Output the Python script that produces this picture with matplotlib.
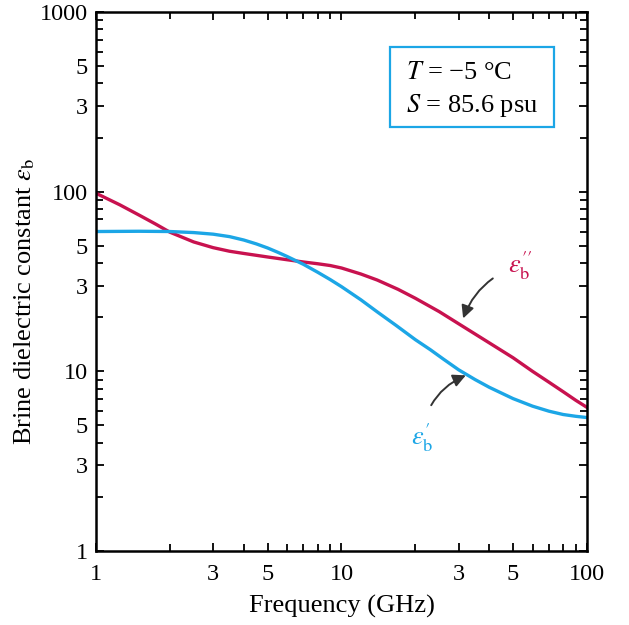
import matplotlib
matplotlib.use('Agg')
import matplotlib.pyplot as plt
from matplotlib.patches import Rectangle

plt.rcParams['font.family'] = ['Liberation Serif', 'DejaVu Serif']
plt.rcParams['mathtext.fontset'] = 'stix'

red = '#c8124f'
blue = '#1ca6e6'

# loss factor eps_b'' vs frequency (GHz)
f_loss = [1.0, 1.25, 1.5, 1.75, 2.0, 2.5, 3.0, 3.5, 4.0, 5.0, 6.0, 7.0, 8.0,
          9.0, 10, 12, 14, 17, 20, 25, 30, 40, 50, 60, 70, 80, 90, 100]
eps_loss = [98, 84.5, 74, 66, 59.5, 52.5, 48.8, 46.6, 45.3, 43.3, 41.8, 40.6,
            39.7, 38.8, 37.6, 34.8, 32.2, 28.6, 25.5, 21.5, 18.4, 14.4, 11.9,
            10.0, 8.7, 7.7, 6.9, 6.3]

# real part eps_b' vs frequency (GHz)
f_real = [1.0, 1.5, 2.0, 2.5, 3.0, 3.5, 4.0, 4.5, 5.0, 5.5, 6.0, 7.0, 8.0,
          9.0, 10, 11, 12, 14, 16.7, 20, 23, 26, 30, 35, 40, 50, 60, 70, 80,
          90, 100]
eps_real = [60.0, 60.2, 60.0, 59.2, 58.0, 56.2, 53.8, 51.2, 48.6, 46.0, 43.6,
            39.4, 35.6, 32.4, 29.6, 27.1, 25.0, 21.4, 18.0, 15.0, 13.2, 11.7,
            10.2, 9.0, 8.15, 7.05, 6.4, 6.0, 5.75, 5.62, 5.53]

x_ticks = [1, 3, 5, 10, 30, 50, 100]
x_labels = ['1', '3', '5', '10', '3', '5', '100']
y_ticks = [1, 3, 5, 10, 30, 50, 100, 300, 500, 1000]
y_labels = ['1', '3', '5', '10', '3', '5', '100', '3', '5', '1000']

fig = plt.figure(figsize=(6.29, 6.25), dpi=100)
ax = fig.add_axes([0.1526, 0.1184, 0.7806, 0.8624])

ax.plot(f_loss, eps_loss, color=red, lw=2.4, solid_joinstyle='round')
ax.plot(f_real, eps_real, color=blue, lw=2.4, solid_joinstyle='round')

ax.set_xscale('log')
ax.set_yscale('log')
ax.set_xlim(1, 100)
ax.set_ylim(1, 1000)

ax.set_xticks(x_ticks)
ax.set_xticklabels(x_labels)
ax.set_xticks([2, 4, 6, 7, 8, 9, 20, 40, 60, 70, 80, 90], minor=True)
ax.set_yticks(y_ticks)
ax.set_yticklabels(y_labels)
ax.set_yticks([2, 4, 6, 7, 8, 9, 20, 40, 60, 70, 80, 90,
               200, 400, 600, 700, 800, 900], minor=True)
ax.xaxis.set_minor_formatter(plt.NullFormatter())
ax.yaxis.set_minor_formatter(plt.NullFormatter())

ax.tick_params(which='both', direction='in', top=True, right=True,
               width=1.3, labelsize=17.5)
ax.tick_params(axis='x', which='both', pad=9.5)
ax.tick_params(axis='y', which='both', pad=6)
ax.tick_params(which='major', length=6)
ax.tick_params(which='minor', length=5)
for s in ax.spines.values():
    s.set_linewidth(1.8)

ax.set_xlabel('Frequency (GHz)', fontsize=19, labelpad=7)
ax.set_ylabel(r'Brine dielectric constant $\varepsilon_{\mathrm{b}}$', fontsize=19)
ax.yaxis.set_label_coords(-0.12, 0.462)

# parameter box
ax.add_patch(Rectangle((0.599, 0.787), 0.334, 0.148, transform=ax.transAxes,
                       fill=False, edgecolor=blue, lw=1.6))
ax.text(0.631, 0.887, r'$T$ = −5 °C', transform=ax.transAxes,
        fontsize=19, va='center', ha='left')
ax.text(0.631, 0.827, r'$S$ = 85.6 psu', transform=ax.transAxes,
        fontsize=19, va='center', ha='left')

# curve labels with arrows
ax.annotate(r"$\varepsilon_{\mathrm{b}}^{\prime\prime}$", xy=(31.3, 19.7),
            xytext=(53.3, 38.8), color=red, fontsize=19, ha='center', va='center',
            arrowprops=dict(arrowstyle='-|>', color='#333333', lw=1.4,
                            shrinkA=10, shrinkB=0,
                            connectionstyle='arc3,rad=0.25'))
ax.annotate(r"$\varepsilon_{\mathrm{b}}^{\prime}$", xy=(32.1, 9.5),
            xytext=(21.3, 4.3), color=blue, fontsize=19, ha='center', va='center',
            arrowprops=dict(arrowstyle='-|>', color='#333333', lw=1.4,
                            shrinkA=10, shrinkB=0,
                            connectionstyle='arc3,rad=-0.3'))

fig.savefig('out.png', dpi=100)
